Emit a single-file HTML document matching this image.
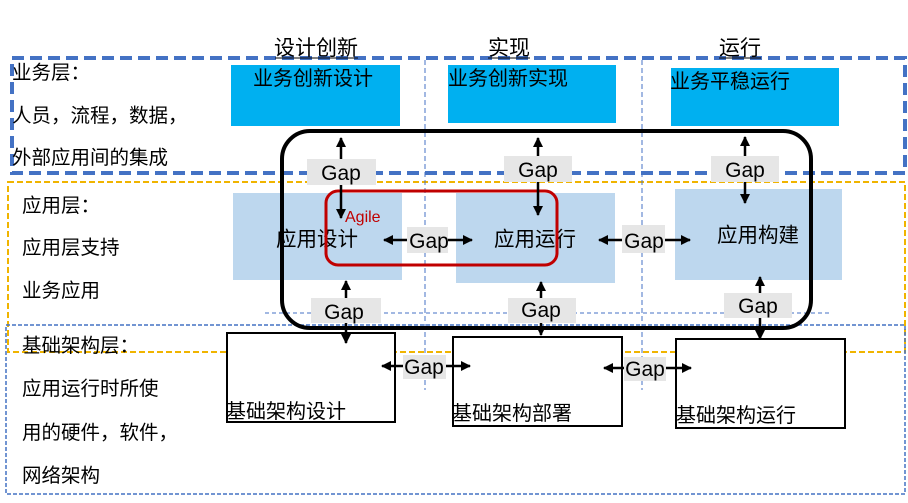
<!DOCTYPE html>
<html><head><meta charset="utf-8"><style>
body{margin:0;background:#fff}
text{font-family:"Liberation Sans","Noto Sans CJK SC",sans-serif;fill:#000}
</style></head><body>
<svg width="908" height="498" viewBox="0 0 908 498" xmlns="http://www.w3.org/2000/svg">
<defs>
<marker id="a" viewBox="0 0 10 10" refX="9" refY="5" markerWidth="4" markerHeight="4" orient="auto-start-reverse"><path d="M0,0L10,5L0,10z" fill="#000"/></marker>
</defs>
<rect x="12" y="58" width="893" height="115" fill="none" stroke="#4472c4" stroke-width="4" stroke-dasharray="12,6"/>
<rect x="8" y="182" width="897" height="170" fill="none" stroke="#f0b400" stroke-width="2" stroke-dasharray="6,3"/>
<rect x="6" y="325" width="899" height="169" fill="none" stroke="#4472c4" stroke-width="1.5" stroke-dasharray="4,2"/>
<line x1="425" y1="60" x2="425" y2="390" stroke="#4472c4" stroke-width="1" stroke-dasharray="5,3"/>
<line x1="642" y1="60" x2="642" y2="390" stroke="#4472c4" stroke-width="1" stroke-dasharray="5,3"/>
<g font-size="21" text-anchor="middle">
<text x="316" y="55">设计创新</text><line x1="275" y1="58" x2="358" y2="58" stroke="#000"/>
<text x="509" y="55">实现</text><line x1="488" y1="58" x2="530" y2="58" stroke="#000"/>
<text x="740" y="55">运行</text><line x1="719" y1="58" x2="761" y2="58" stroke="#000"/>
</g>
<g font-size="19.5">
<text x="12" y="79">业务层：</text>
<text x="12" y="122">人员，流程，数据，</text>
<text x="12" y="164">外部应用间的集成</text>
<text x="22" y="212">应用层：</text>
<text x="22" y="254">应用层支持</text>
<text x="22" y="297">业务应用</text>
<text x="22" y="352">基础架构层：</text>
<text x="22" y="395">应用运行时所使</text>
<text x="22" y="439">用的硬件，软件，</text>
<text x="22" y="482">网络架构</text>
</g>
<rect x="231" y="65" width="169" height="61" fill="#00b0f0"/>
<rect x="448" y="65" width="168" height="58" fill="#00b0f0"/>
<rect x="671" y="68" width="168" height="58" fill="#00b0f0"/>
<g font-size="20">
<text x="253" y="85">业务创新设计</text>
<text x="448" y="85">业务创新实现</text>
<text x="670" y="88">业务平稳运行</text>
</g>
<rect x="233" y="193" width="169" height="87" fill="#bdd7ee"/>
<rect x="456" y="193" width="159" height="90" fill="#bdd7ee"/>
<rect x="675" y="189" width="167" height="91" fill="#bdd7ee"/>
<g font-size="20.5">
<text x="276" y="246">应用设计</text>
<text x="494" y="246">应用运行</text>
<text x="717" y="242">应用构建</text>
</g>
<line x1="265" y1="313" x2="830" y2="313" stroke="#4472c4" stroke-width="1" stroke-dasharray="4,3"/>
<rect x="227" y="333" width="168" height="89" fill="#fff" stroke="#000" stroke-width="2"/>
<rect x="453" y="337" width="169" height="89" fill="#fff" stroke="#000" stroke-width="2"/>
<rect x="676" y="339" width="169" height="89" fill="#fff" stroke="#000" stroke-width="2"/>
<g font-size="20">
<text x="226" y="418">基础架构设计</text>
<text x="452" y="420">基础架构部署</text>
<text x="676" y="422">基础架构运行</text>
</g>
<rect x="282" y="131" width="529" height="197" rx="28" fill="none" stroke="#000" stroke-width="4"/>
<rect x="326" y="191" width="231" height="74" rx="12" fill="none" stroke="#c00000" stroke-width="3"/>
<text x="345" y="222" font-size="16" style="fill:#c00000">Agile</text>
<g stroke="#000" stroke-width="2.5" fill="none" marker-start="url(#a)" marker-end="url(#a)">
<line x1="341" y1="138" x2="341" y2="218"/>
<line x1="538" y1="138" x2="538" y2="215"/>
<line x1="745" y1="137" x2="745" y2="203"/>
<line x1="346" y1="281" x2="346" y2="343"/>
<line x1="541" y1="282" x2="541" y2="335"/>
<line x1="760" y1="277" x2="760" y2="339"/>
<line x1="384" y1="240" x2="472" y2="240"/>
<line x1="599" y1="240" x2="690" y2="240"/>
<line x1="382" y1="366" x2="470" y2="366"/>
<line x1="604" y1="368" x2="691" y2="368"/>
</g>
<g fill="#e6e6e6">
<rect x="307" y="159" width="69" height="26"/>
<rect x="504" y="156" width="68" height="26"/>
<rect x="711" y="156" width="68" height="26"/>
<rect x="407" y="227" width="41" height="26"/>
<rect x="622" y="225" width="43" height="28"/>
<rect x="311" y="298" width="70" height="25"/>
<rect x="508" y="298" width="68" height="25"/>
<rect x="724" y="293" width="68" height="25"/>
<rect x="403" y="355" width="43" height="24"/>
<rect x="624" y="357" width="42" height="24"/>
</g>
<g font-size="21" text-anchor="middle">
<text x="341" y="180">Gap</text>
<text x="538" y="177">Gap</text>
<text x="745" y="177">Gap</text>
<text x="429" y="248">Gap</text>
<text x="644" y="248">Gap</text>
<text x="344" y="319">Gap</text>
<text x="541" y="317">Gap</text>
<text x="758" y="313">Gap</text>
<text x="424" y="374">Gap</text>
<text x="645" y="376">Gap</text>
</g>
</svg>
</body></html>
